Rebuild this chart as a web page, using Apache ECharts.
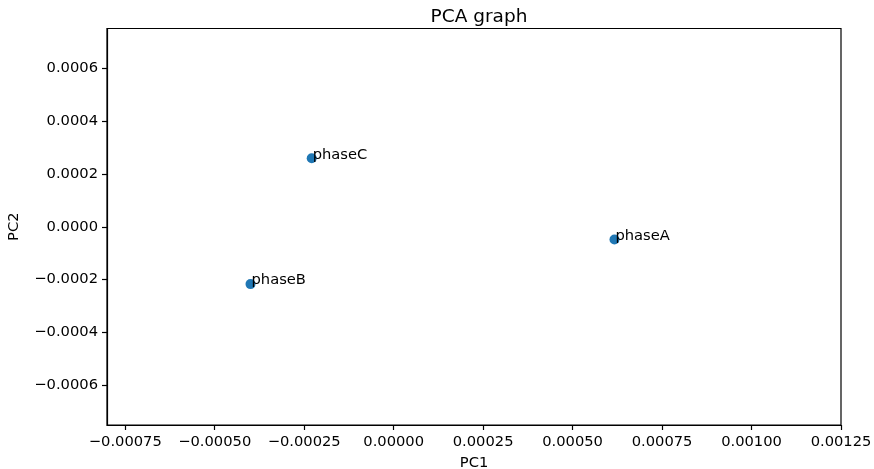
<!DOCTYPE html>
<html>
<head>
<meta charset="utf-8">
<script src="https://cdn.jsdelivr.net/npm/echarts@6/dist/echarts.min.js"></script>
<style>
  html, body { margin: 0; padding: 0; background: #fff; }
  #chart { width: 874px; height: 469px; }
</style>
</head>
<body>
<div id="chart"></div>
<script>
// Sample names and their first two principal component scores
const samples = ['phaseA', 'phaseB', 'phaseC'];
const pc1 = [0.000617, -0.000400, -0.000229];
const pc2 = [-0.000048, -0.000217, 0.000259];

// Axis tick positions
const xTicks = [-0.00075, -0.0005, -0.00025, 0, 0.00025, 0.0005, 0.00075, 0.001, 0.00125];
const yTicks = [-0.0006, -0.0004, -0.0002, 0, 0.0002, 0.0004, 0.0006];

const FONT = 'DejaVu Sans';
const FS = 14.7;
const SYM = 10;

const fmt = (v, d) => {
  const s = Math.abs(v).toFixed(d);
  return (v < -1e-12 ? '\u2212' : '') + s;
};

const points = samples.map((n, i) => ({ name: n, value: [pc1[i], pc2[i]] }));

const chart = echarts.init(document.getElementById('chart'), null, { renderer: 'canvas' });
chart.setOption({
  animation: false,
  backgroundColor: '#fff',
  textStyle: { fontFamily: FONT },
  title: {
    text: 'PCA graph',
    left: 474, top: 3, textAlign: 'center',
    textStyle: { fontFamily: FONT, fontSize: 18.5, fontWeight: 'normal', color: '#000' }
  },
  grid: {
    left: 107, right: 33, top: 28.5, bottom: 44,
    outerBoundsMode: 'none', containLabel: false,
    show: true, borderColor: '#000', borderWidth: 1.2, backgroundColor: 'transparent'
  },
  xAxis: {
    type: 'value',
    min: -0.000801, max: 0.00125,
    name: 'PC1', nameLocation: 'middle', nameGap: 31,
    nameTextStyle: { fontFamily: FONT, fontSize: FS, color: '#000' },
    splitLine: { show: false },
    axisLine: { show: true, onZero: false, lineStyle: { color: '#000', width: 1.2 } },
    axisTick: { show: true, length: 5, lineStyle: { color: '#000', width: 1.2 }, customValues: xTicks },
    axisLabel: {
      customValues: xTicks, margin: 10,
      fontFamily: FONT, fontSize: FS, color: '#000',
      formatter: v => fmt(v, 5)
    }
  },
  yAxis: {
    type: 'value',
    min: -0.00075, max: 0.00075,
    name: 'PC2', nameLocation: 'middle', nameGap: 85.5, nameRotate: 90,
    nameTextStyle: { fontFamily: FONT, fontSize: FS, color: '#000' },
    splitLine: { show: false },
    axisLine: { show: true, onZero: false, lineStyle: { color: '#000', width: 1.2 } },
    axisTick: { show: true, length: 5, lineStyle: { color: '#000', width: 1.2 }, customValues: yTicks },
    axisLabel: {
      customValues: yTicks, margin: 9,
      fontFamily: FONT, fontSize: FS, color: '#000',
      formatter: v => fmt(v, 4)
    }
  },
  series: [{
    type: 'scatter',
    data: points,
    symbolSize: SYM,
    itemStyle: { color: '#1f77b4', opacity: 1 },
    label: {
      show: true,
      formatter: p => p.name,
      // text starts at the point centre with its baseline on the point
      position: [SYM / 2 + 1, SYM / 2 + 4.5],
      align: 'left',
      verticalAlign: 'bottom',
      fontFamily: FONT, fontSize: FS, color: '#000', lineHeight: 16
    },
    labelLayout: { hideOverlap: false },
    emphasis: { disabled: true }
  }]
});
</script>
</body>
</html>
